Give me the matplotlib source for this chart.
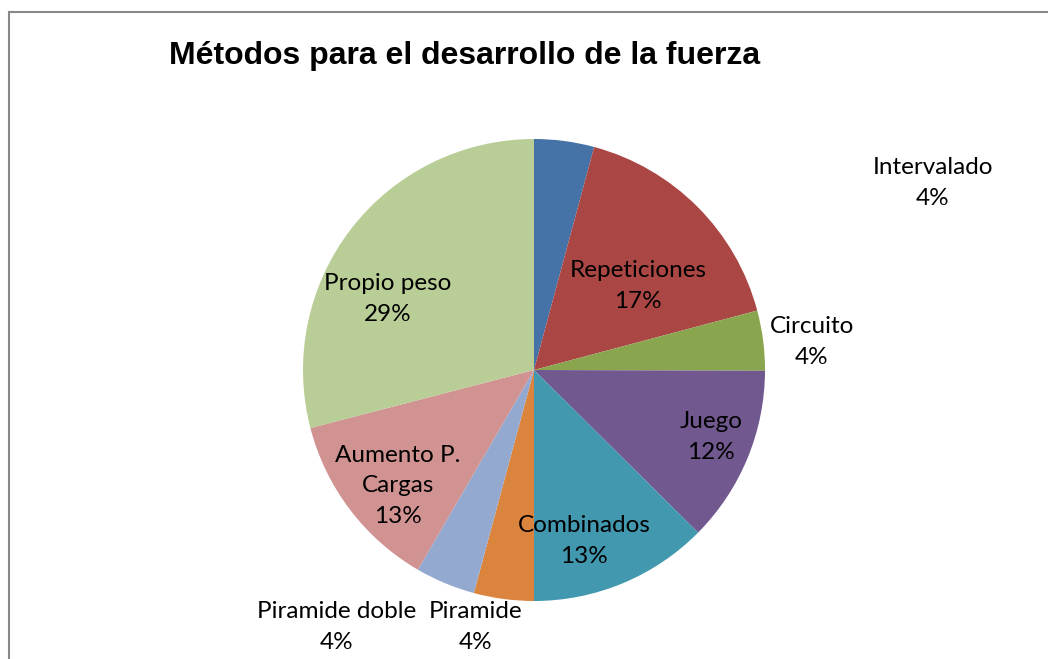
import matplotlib.pyplot as plt
from matplotlib.patches import Rectangle

categorias = ["Intervalado", "Repeticiones", "Circuito", "Juego", "Combinados",
              "Piramide", "Piramide doble", "Aumento P.\nCargas", "Propio peso"]
valores = [4.2, 16.7, 4.2, 12.4, 12.6, 4.2, 4.2, 12.6, 29.1]
colores = ["#4572A7", "#AA4643", "#89A54E", "#71588F", "#4198AF",
           "#DB843D", "#93A9CF", "#D19392", "#B9CD96"]

# label positions in units of the pie radius
pos_etiquetas = [(1.727, 0.81), (0.45, 0.364), (1.203, 0.121), (0.766, -0.29),
                 (0.216, -0.74), (-0.251, -1.113), (-0.853, -1.113),
                 (-0.589, -0.502), (-0.632, 0.307)]

fig = plt.figure(figsize=(10.48, 6.59), dpi=100)
fig.patches.append(Rectangle((9 / 1048, -0.1), 1.2, 1 - 12 / 659 + 0.1,
                             transform=fig.transFigure, fill=False,
                             edgecolor="#888888", linewidth=1.5))

R = 231
cx, cy = 534, 370
ax = fig.add_axes([(cx - R) / 1048, (659 - cy - R) / 659, 2 * R / 1048, 2 * R / 659])
ax.pie(valores, colors=colores, startangle=90, counterclock=False, radius=1,
       wedgeprops=dict(linewidth=0))
ax.set_xlim(-1, 1)
ax.set_ylim(-1, 1)
ax.set_aspect("auto")
ax.axis("off")

total = sum(valores)
for cat, v, (x, y) in zip(categorias, valores, pos_etiquetas):
    ax.text(x, y, "%s\n%d%%" % (cat, round(100 * v / total)), ha="center", va="center",
            fontsize=17.5, family=["Lato", "DejaVu Sans"], linespacing=1.55,
            clip_on=False)

fig.text(465 / 1048, 1 - 56 / 659, "Métodos para el desarrollo de la fuerza",
         ha="center", va="center", fontsize=23, fontweight="bold",
         family="Liberation Sans")

fig.savefig("out.png", dpi=100)
